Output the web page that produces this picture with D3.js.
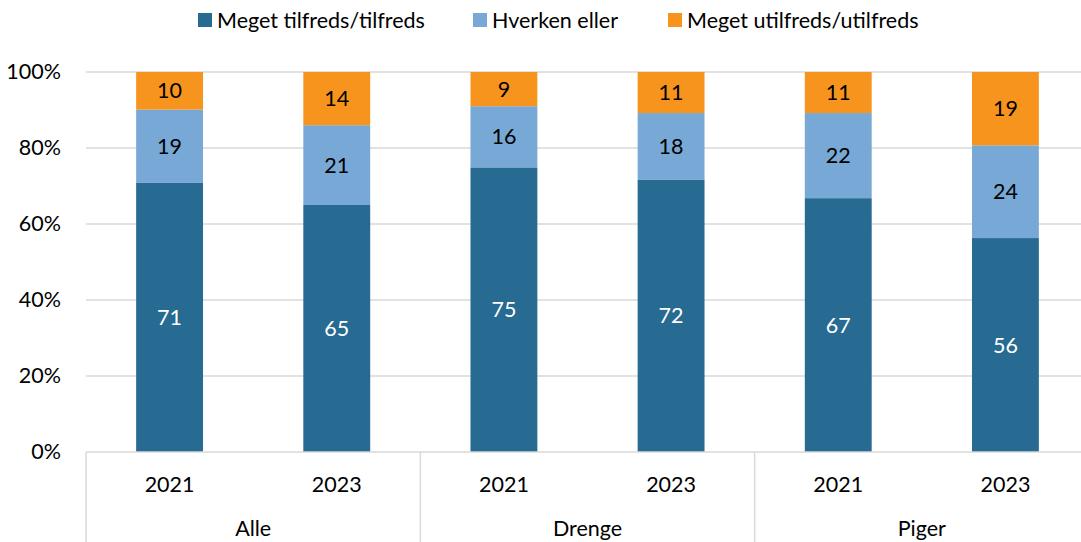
<!DOCTYPE html>
<html>
<head>
<meta charset="utf-8">
<script src="https://cdn.jsdelivr.net/npm/d3@7"></script>
<style>
  body { margin: 0; background: #fff; }
  text { font-family: Lato, "Open Sans", sans-serif; }
</style>
</head>
<body>
<div id="container"></div>
<script>
// data (percent)
const groups = ["Alle", "Drenge", "Piger"];
const years = ["2021", "2023"];
const series = ["Meget tilfreds/tilfreds", "Hverken eller", "Meget utilfreds/utilfreds"];
const tilfreds   = [70.8, 65.0, 74.9, 71.6, 66.8, 56.3];
const hverken    = [19.3, 21.0, 16.1, 17.6, 22.4, 24.4];
const utilfreds  = [9.9, 14.0, 9.0, 10.8, 10.8, 19.3];
const yTicks = [0, 20, 40, 60, 80, 100];
const colors = ["#276a92", "#78a9d6", "#f7941d"];
const labelColors = ["#fff", "#000", "#000"];

const W = 1081, H = 542;
const plotL = 86, plotR = 1089, plotT = 72, plotB = 452;
const fs = 21.5;

let svg = d3.select("#container")
  .append("svg")
  .attr("width", W)
  .attr("height", H);

// rows: one per bar
let rows = [];
groups.forEach((g, gi) => {
  years.forEach((yr, yi) => {
    let i = gi * years.length + yi;
    rows.push({key: g + "|" + yr, group: g, year: yr,
      s0: tilfreds[i], s1: hverken[i], s2: utilfreds[i]});
  });
});

let x = d3.scaleBand()
  .domain(rows.map(d => d.key))
  .range([plotL, plotR])
  .paddingInner(0.6)
  .paddingOuter(0.3);

let y = d3.scaleLinear().domain([0, 100]).range([plotB, plotT]);

// gridlines
svg.append("g").selectAll("line").data(yTicks.filter(t => t > 0)).enter().append("line")
  .attr("x1", plotL).attr("x2", plotR)
  .attr("y1", d => y(d)).attr("y2", d => y(d))
  .attr("stroke", "#d9d9d9").attr("stroke-width", 1.5);

// y axis labels
let yAxis = svg.append("g")
  .attr("transform", "translate(" + (plotL - 22) + ",0)")
  .call(d3.axisLeft(y).tickValues(yTicks).tickFormat(d => d + "%").tickSize(0));
yAxis.select(".domain").remove();
yAxis.selectAll("text").attr("font-size", fs).attr("fill", "#000")
  .attr("font-family", "Lato, sans-serif").attr("dx", 0);

// stacked bars
let stack = d3.stack().keys(["s0", "s1", "s2"]);
let layers = stack(rows);

layers.forEach((layer, li) => {
  let g = svg.append("g");
  g.selectAll("rect").data(layer).enter().append("rect")
    .attr("x", d => x(d.data.key))
    .attr("width", x.bandwidth())
    .attr("y", d => y(d[1]))
    .attr("height", d => y(d[0]) - y(d[1]))
    .attr("fill", colors[li]);
  g.selectAll("text").data(layer).enter().append("text")
    .attr("x", d => x(d.data.key) + x.bandwidth() / 2)
    .attr("y", d => (y(d[0]) + y(d[1])) / 2)
    .attr("dy", "0.35em")
    .attr("text-anchor", "middle")
    .attr("font-size", fs)
    .attr("fill", labelColors[li])
    .text(d => Math.round(d[1] - d[0]));
});

// category axis
svg.append("line")
  .attr("x1", plotL).attr("x2", plotR)
  .attr("y1", plotB).attr("y2", plotB)
  .attr("stroke", "#d9d9d9").attr("stroke-width", 1.5);

let gw = (plotR - plotL) / groups.length;
svg.append("g").selectAll("line").data(d3.range(groups.length + 1)).enter().append("line")
  .attr("x1", d => plotL + d * gw).attr("x2", d => plotL + d * gw)
  .attr("y1", plotB).attr("y2", H)
  .attr("stroke", "#d9d9d9").attr("stroke-width", 1.5);

svg.append("g").selectAll("text").data(rows).enter().append("text")
  .attr("x", d => x(d.key) + x.bandwidth() / 2)
  .attr("y", 492)
  .attr("text-anchor", "middle")
  .attr("font-size", fs)
  .text(d => d.year);

svg.append("g").selectAll("text").data(groups).enter().append("text")
  .attr("x", (d, i) => plotL + i * gw + gw / 2)
  .attr("y", 536)
  .attr("text-anchor", "middle")
  .attr("font-size", fs)
  .text(d => d);

// legend
let legX = [198, 473, 668];
let leg = svg.append("g").selectAll("g").data(series).enter().append("g")
  .attr("transform", (d, i) => "translate(" + legX[i] + ",13)");
leg.append("rect").attr("width", 14).attr("height", 14)
  .attr("fill", (d, i) => colors[i]);
leg.append("text").attr("x", 19).attr("y", 7).attr("dy", "0.35em")
  .attr("font-size", fs).text(d => d);
</script>
</body>
</html>
